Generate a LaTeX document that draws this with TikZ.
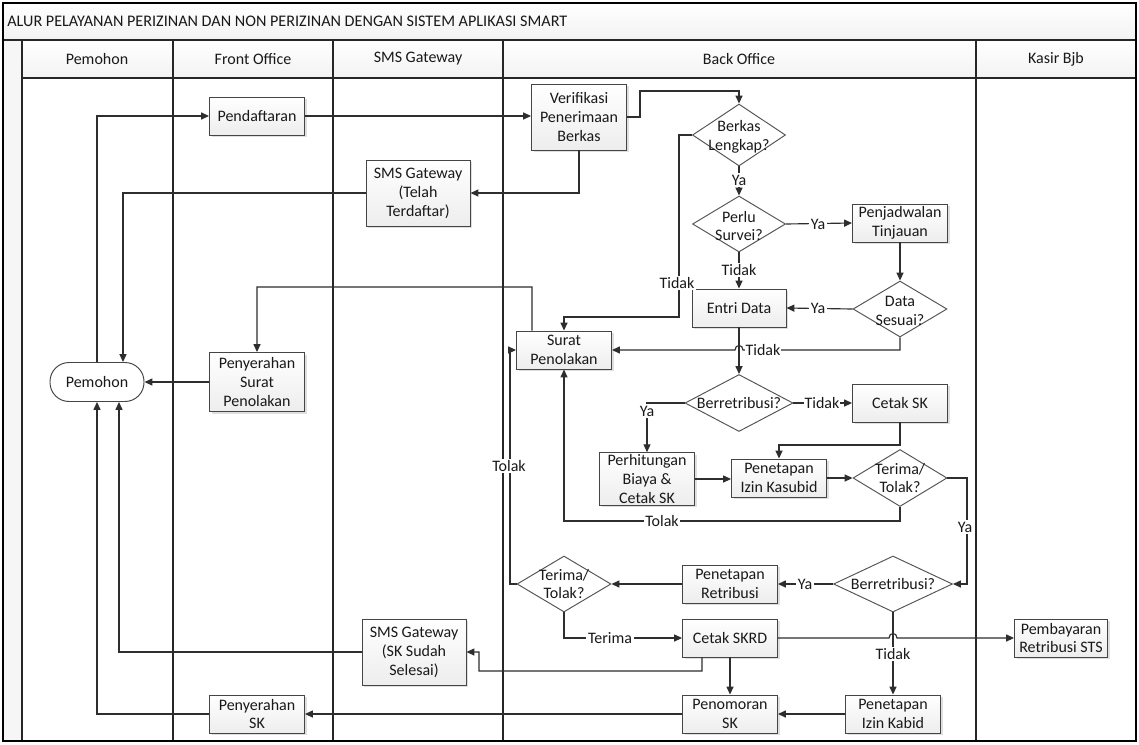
\documentclass[tikz,border=0pt]{standalone}
\usepackage{fontspec}
\setmainfont{Carlito}
\usetikzlibrary{shapes.geometric,arrows.meta,shadows}
\definecolor{boxc}{HTML}{454545}
\definecolor{diac}{HTML}{555555}
\definecolor{linec}{HTML}{2E2E2E}
\begin{document}
\begin{tikzpicture}[x=0.02cm,y=-0.02cm,
  every node/.style={font=\fontsize{9.1}{10.8}\selectfont, text=black!90},
  box/.style={draw=boxc, line width=0.55pt, top color=white, bottom color=gray!14,
    drop shadow={shadow xshift=1.2pt,shadow yshift=-1.2pt,opacity=0.25,fill=gray},
    minimum width=1.9cm, minimum height=0.76cm, inner sep=1pt, align=center},
  dia/.style={diamond, draw=diac, line width=0.55pt, fill=white, inner sep=0pt},
  dtext/.style={align=center, inner sep=0pt},
  conn/.style={draw=linec, line width=0.65pt},
  arr/.style={conn, -{Triangle[length=4.5pt,width=4pt]}},
  lbl/.style={fill=white, inner sep=1pt},
  lane/.style={draw=black!85, line width=0.6pt},
]
\useasboundingbox (0,0) rectangle (1139,744);
% background frame
\fill[white] (0,0) rectangle (1139,744);
\shade[top color=white, bottom color=gray!10] (3,3) rectangle (1136,40);
\shade[top color=white, bottom color=gray!10] (22,40) rectangle (1136,78);
\fill[gray!7] (3,40) rectangle (22,741);
\draw[lane] (3,40) -- (1136,40);
\draw[lane] (22,78) -- (1136,78);
\foreach \xx in {22,173,333,503,976} \draw[lane] (\xx,40) -- (\xx,741);
\draw[black, line width=1.4pt] (3,3) rectangle (1136,741);
\node[anchor=west, inner sep=0pt, font=\fontsize{9.2}{11}\selectfont] (title) at (7,21) {ALUR PELAYANAN PERIZINAN DAN NON PERIZINAN DENGAN SISTEM APLIKASI SMART};
\node (h1) at (97,59) {Pemohon};
\node (h2) at (253,59) {Front Office};
\node (h3) at (418,59) {SMS Gateway};
\node (h4) at (739,59) {Back Office};
\node (h5) at (1056,59) {Kasir Bjb};

% nodes
\node[draw=boxc, line width=0.55pt, fill=white, rounded corners=0.38cm, minimum width=1.88cm, minimum height=0.78cm] (pem) at (97,382) {Pemohon};
\node[box] (pend) at (257,116) {Pendaftaran};
\node[box, minimum height=1.32cm] (verif) at (579,117) {Verifikasi\\Penerimaan\\Berkas};
\node[box, minimum width=2.08cm, minimum height=1.32cm] (smsa) at (418,193) {SMS Gateway\\(Telah\\Terdaftar)};
\node[box, minimum height=1.18cm] (penyst) at (257,382) {Penyerahan\\Surat\\Penolakan};
\node[box] (surat) at (564,350) {Surat\\Penolakan};
\node[dia, minimum width=1.86cm, minimum height=1.24cm] (berkas) at (739,135) {};
\node[dtext] (berkast) at (739,137) {Berkas\\Lengkap?};
\node[dia, minimum width=1.86cm, minimum height=1.12cm] (survei) at (739,224) {};
\node[dtext] (surveit) at (739,226) {Perlu\\Survei?};
\node[box] (jadwal) at (900,223) {Penjadwalan\\Tinjauan};
\node[dia, minimum width=1.88cm, minimum height=1.12cm] (sesuai) at (900,309) {};
\node[dtext] (sesuait) at (900,311) {Data\\Sesuai?};
\node[box, minimum width=1.88cm] (entri) at (739,308) {Entri Data};
\node[dia, minimum width=2.16cm, minimum height=1.14cm] (retr1) at (739,403) {};
\node[dtext] (retr1t) at (739,403) {Berretribusi?};
\node[box] (cetaksk) at (900,403) {Cetak SK};
\node[box, minimum height=1.0cm] (hitung) at (647,479) {Perhitungan\\Biaya \&\\Cetak SK};
\node[box] (kasubid) at (779,478) {Penetapan\\Izin Kasubid};
\node[dia, minimum width=1.88cm, minimum height=1.14cm] (tt1) at (900,478) {};
\node[dtext] (tt1t) at (900,478) {Terima/\\Tolak?};
\node[dia, minimum width=2.38cm, minimum height=1.12cm] (retr2) at (893,584) {};
\node[dtext] (retr2t) at (893,584) {Berretribusi?};
\node[box] (penretr) at (730,584) {Penetapan\\Retribusi};
\node[dia, minimum width=1.88cm, minimum height=1.12cm] (tt2) at (564,584) {};
\node[dtext] (tt2t) at (564,584) {Terima/\\Tolak?};
\node[box] (skrd) at (730,638) {Cetak SKRD};
\node[box, minimum width=1.86cm] (bayar) at (1061,638) {Pembayaran\\Retribusi STS};
\node[box] (nomor) at (730,714) {Penomoran\\SK};
\node[box] (kabid) at (893,714) {Penetapan\\Izin Kabid};
\node[box, minimum width=2.08cm, minimum height=1.32cm] (smsb) at (414,652) {SMS Gateway\\(SK Sudah\\Selesai)};
\node[box] (penysk) at (257,714) {Penyerahan\\SK};

% connectors
\draw[arr] (pem.north) |- (pend.west);
\draw[arr] (pend.east) -- (pend.east -| verif.west);
\draw[arr] (verif.east) -- (640,117) -- (640,91) -| (berkas.north);
\draw[arr] (verif.south) |- (smsa.east);
\draw[arr] (smsa.west) -| ([xshift=0.52cm]pem.north);
\draw[arr] (berkas.west) -- (679,135) -- (679,317) -| (surat.north);
\node[lbl] (l1) at (677,283) {Tidak};
\draw[arr] (berkas.south) -- (survei.north);
\node[lbl] (l2) at (739,180) {Ya};
\draw[arr] (survei.east) -- (jadwal.west);
\node[lbl] (l3) at (818,224) {Ya};
\draw[arr] (survei.south) -- (entri.north);
\node[lbl] (l4) at (739,270) {Tidak};
\draw[arr] (jadwal.south) -- (sesuai.north);
\draw[arr] (sesuai.west) -- (entri.east);
\node[lbl] (l5) at (818,308) {Ya};
\draw[arr] (sesuai.south) -- (900,350) -- (743,350) .. controls (743,344) and (735,344) .. (735,350) -- (surat.east);
\node[lbl, inner xsep=0.5pt] (l6) at (763,350) {Tidak};
\draw[arr] (entri.south) -- (retr1.north);
\draw[arr] (retr1.west) -| (hitung.north);
\node[lbl] (l7) at (647,411) {Ya};
\draw[arr] (retr1.east) -- (cetaksk.west);
\node[lbl, inner xsep=0.5pt] (l8) at (822,403) {Tidak};
\draw[arr] (cetaksk.south) -- (900,445) -| (kasubid.north);
\draw[arr] (hitung.east) -- (hitung.east -| kasubid.west);
\draw[arr] (kasubid.east) -- (tt1.west);
\draw[arr] (tt1.south) -- (900,521) -| (surat.south);
\node[lbl] (l9) at (662,521) {Tolak};
\draw[arr] (tt1.east) -- (967,478) |- (retr2.east);
\node[lbl] (l10) at (965,527) {Ya};
\draw[arr] (retr2.west) -- (penretr.east);
\node[lbl] (l11) at (805,584) {Ya};
\draw[arr] (penretr.west) -- (tt2.east);
\draw[arr] (tt2.west) -- (510,584) |- (surat.west);
\node[lbl] (l12) at (509,466) {Tolak};
\draw[arr] (tt2.south) |- (skrd.west);
\node[lbl] (l13) at (610,638) {Terima};
\draw[arr] (skrd.east) -- (889,638) .. controls (889,632) and (897,632) .. (897,638) -- (bayar.west);
\draw[arr] (retr2.south) -- (kabid.north);
\node[lbl] (l14) at (893,654) {Tidak};
\draw[arr] ([xshift=-0.56cm]skrd.south) -- (702,671) -- (479,671) |- (smsb.east);
\draw[arr] (skrd.south) -- (nomor.north);
\draw[arr] (kabid.west) -- (nomor.east);
\draw[arr] (nomor.west) -- (penysk.east);
\draw[arr] (penysk.west) -| (pem.south);
\draw[arr] (smsb.west) -| ([xshift=0.44cm]pem.south);
\draw[arr] (penyst.west) -- (pem.east);
\draw[arr] ([xshift=-0.64cm]surat.north) -- (532,287) -| (penyst.north);
\end{tikzpicture}
\end{document}
